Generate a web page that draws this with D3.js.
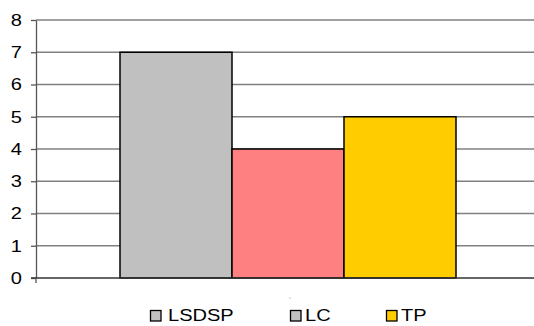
<!DOCTYPE html>
<html>
<head>
<meta charset="utf-8">
<script src="https://cdn.jsdelivr.net/npm/d3@7"></script>
<style>
  html, body { margin: 0; padding: 0; background: #fff; }
  svg { display: block; font-family: "Liberation Sans", Arial, sans-serif; }
</style>
</head>
<body>
<svg id="chart" width="534" height="326"></svg>
<script>
// Series and their values
const seriesNames = ["LSDSP", "LC", "TP"];
const seriesValues = [7, 4, 5];
const barColors = ["#C0C0C0", "#FF8080", "#FFCC00"];
const legendColors = ["#C0C0C0", "#C0C0C0", "#FFCC00"];
const yTicks = [0, 1, 2, 3, 4, 5, 6, 7, 8];

const svg = d3.select("#chart");

const plot = { left: 36, right: 534, top: 20, bottom: 278 };
const stretch = 1.18; // wide glyphs
const fontSize = 17;

const y = d3.scaleLinear().domain([0, 8]).range([plot.bottom, plot.top]);
const x = d3.scaleBand().domain(seriesNames).range([120, 456]).padding(0);

// Horizontal gridlines
svg.append("g")
  .selectAll("line")
  .data(yTicks.filter(d => d > 0))
  .join("line")
  .attr("x1", plot.left)
  .attr("x2", plot.right)
  .attr("y1", d => y(d))
  .attr("y2", d => y(d))
  .attr("stroke", "#808080")
  .attr("stroke-width", 1.5);

// Y axis with outward ticks
const yAxis = svg.append("g")
  .attr("transform", `translate(${plot.left},0)`)
  .call(d3.axisLeft(y).tickValues(yTicks).tickSize(5).tickPadding(14).tickSizeOuter(0));
yAxis.select(".domain").attr("stroke", "#555").attr("stroke-width", 1.3);
yAxis.selectAll(".tick line").attr("stroke", "#555").attr("stroke-width", 1.3);
yAxis.selectAll(".tick text")
  .attr("font-size", fontSize)
  .attr("fill", "#000")
  .attr("font-family", "'Liberation Sans', Arial, sans-serif")
  .attr("x", -14 / stretch)
  .attr("transform", `scale(${stretch},1)`);

// Bars
svg.append("g")
  .selectAll("rect")
  .data(seriesNames.map((n, i) => ({ name: n, value: seriesValues[i], color: barColors[i] })))
  .join("rect")
  .attr("x", d => x(d.name))
  .attr("width", x.bandwidth())
  .attr("y", d => y(d.value))
  .attr("height", d => y(0) - y(d.value))
  .attr("fill", d => d.color)
  .attr("stroke", "#000")
  .attr("stroke-width", 1.5);

// Baseline (x axis) with small tick below the y axis
svg.append("line")
  .attr("x1", plot.left - 5).attr("x2", plot.right)
  .attr("y1", y(0)).attr("y2", y(0))
  .attr("stroke", "#333").attr("stroke-width", 1.3);
svg.append("line")
  .attr("x1", plot.left).attr("x2", plot.left)
  .attr("y1", y(0)).attr("y2", y(0) + 5)
  .attr("stroke", "#555").attr("stroke-width", 1.3);

// Empty category label marker
svg.append("rect")
  .attr("x", 289.5).attr("y", 297.5).attr("width", 1).attr("height", 1)
  .attr("fill", "#888");

// Legend
const legendSwatchX = [150, 290, 386];
const legendTextX = [168, 305, 401];
const legend = svg.append("g")
  .selectAll("g")
  .data(seriesNames.map((n, i) => ({ name: n, color: legendColors[i], sx: legendSwatchX[i], tx: legendTextX[i] })))
  .join("g");
legend.append("rect")
  .attr("x", d => d.sx + 0.5).attr("y", 310.5)
  .attr("width", 10.5).attr("height", 10.5)
  .attr("fill", d => d.color)
  .attr("stroke", "#000")
  .attr("stroke-width", 1.3);
legend.append("text")
  .attr("x", d => d.tx / stretch)
  .attr("y", 321.5)
  .attr("transform", `scale(${stretch},1)`)
  .attr("font-size", fontSize)
  .attr("fill", "#000")
  .text(d => d.name);
</script>
</body>
</html>
